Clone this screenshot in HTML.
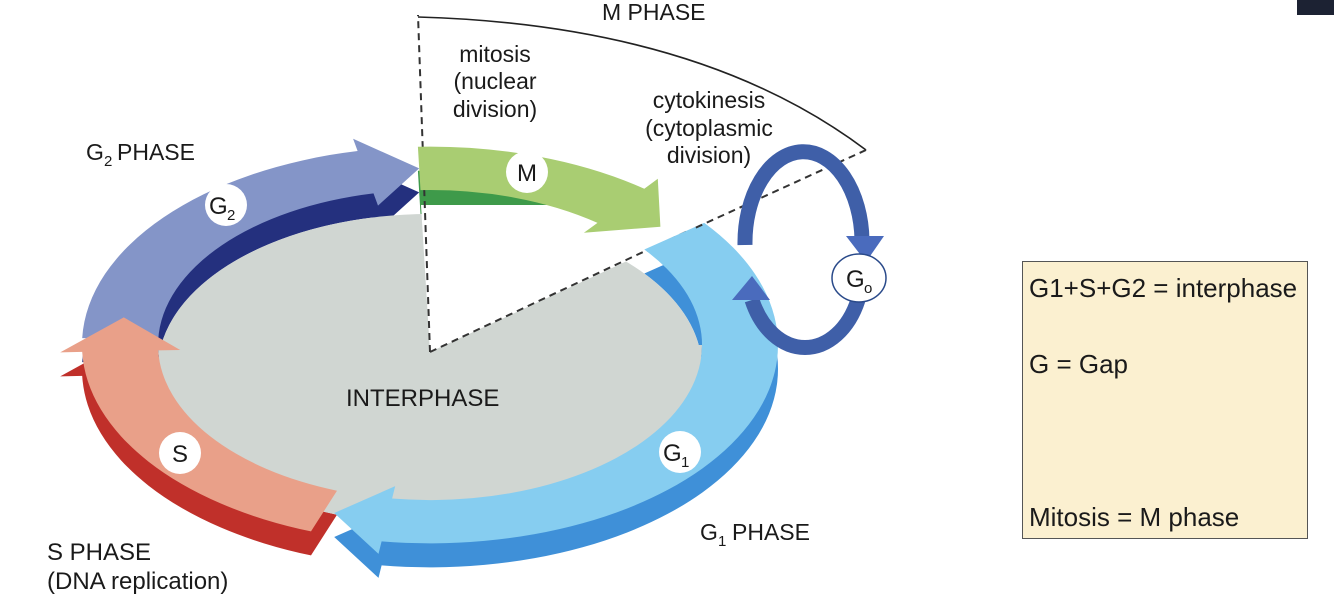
<!DOCTYPE html>
<html><head><meta charset="utf-8"><style>
html,body{margin:0;padding:0;background:#fff;}
svg{display:block;}
text{font-family:"Liberation Sans",sans-serif;fill:#1a1a1a;}
</style></head><body>
<svg width="1334" height="603" viewBox="0 0 1334 603" xmlns="http://www.w3.org/2000/svg">
<defs>
<clipPath id="lower"><rect x="0" y="345" width="900" height="300"/></clipPath>
</defs>
<rect x="1297" y="0" width="37" height="15" fill="#1c2233"/>

<g transform="translate(430,369) scale(1,0.57)">
<path fill="#3e9a4a" d="M-12.1,-347.8 A348,348 0 0 1 214.3,-274.2 L227.8,-291.6 L230.4,-207.4 L153.9,-197 L167.5,-214.3 A272,272 0 0 0 -9.5,-271.8 Z"/>
<path fill="#24307e" d="M-347.8,-12.1 A348,348 0 0 1 -72.4,-340.4 L-76.9,-361.9 L-10.8,-309.8 L-52,-244.5 L-56.5,-266 A272,272 0 0 0 -271.8,-9.5 Z"/>
<path fill="#c0302a" d="M-119,327 A348,348 0 0 1 -347.8,12.1 L-369.8,12.9 L-306.2,-48.5 L-249.8,8.7 L-271.8,9.5 A272,272 0 0 0 -93,255.6 Z"/>
<path fill="#3f90d8" d="M274.2,-214.3 A348,348 0 0 1 -48.4,344.6 L-51.5,366.4 L-95.8,294.8 L-34.8,247.6 L-37.9,269.4 A272,272 0 0 0 214.3,-167.5 Z"/>
</g>

<ellipse cx="430" cy="369" rx="272" ry="155" fill="#d0d6d2"/>
<ellipse cx="430" cy="345" rx="272" ry="155" fill="#d0d6d2" clip-path="url(#lower)"/>
<polygon points="430,352 421,205 560,205 690,232" fill="#fff"/>
<line x1="430" y1="352" x2="418" y2="15" stroke="#333" stroke-width="2" stroke-dasharray="7,5"/>
<line x1="430" y1="352" x2="690" y2="230" stroke="#333" stroke-width="2" stroke-dasharray="7,5"/>

<g transform="translate(430,345) scale(1,0.57)">
<path fill="#a9cd72" d="M-12.1,-347.8 A348,348 0 0 1 214.3,-274.2 L227.8,-291.6 L230.4,-207.4 L153.9,-197 L167.5,-214.3 A272,272 0 0 0 -9.5,-271.8 Z"/>
<path fill="#8495c8" d="M-347.8,-12.1 A348,348 0 0 1 -72.4,-340.4 L-76.9,-361.9 L-10.8,-309.8 L-52,-244.5 L-56.5,-266 A272,272 0 0 0 -271.8,-9.5 Z"/>
<path fill="#e9a089" d="M-119,327 A348,348 0 0 1 -347.8,12.1 L-369.8,12.9 L-306.2,-48.5 L-249.8,8.7 L-271.8,9.5 A272,272 0 0 0 -93,255.6 Z"/>
<path fill="#86cdf0" d="M274.2,-214.3 A348,348 0 0 1 -48.4,344.6 L-51.5,366.4 L-95.8,294.8 L-34.8,247.6 L-37.9,269.4 A272,272 0 0 0 214.3,-167.5 Z"/>
</g>

<path d="M418,17 Q700,25 866,150" fill="none" stroke="#222" stroke-width="1.6"/>
<line x1="866" y1="150" x2="695" y2="228" stroke="#333" stroke-width="2" stroke-dasharray="7,5"/>

<path d="M745,245 A58,90 0 0 1 862,240" fill="none" stroke="#3f5fa8" stroke-width="15"/>
<polygon points="846,236 884,236 866,262" fill="#4a6bbd"/>
<path d="M858,300 A58,80 0 0 1 752,300" fill="none" stroke="#3f5fa8" stroke-width="15"/>
<polygon points="732,300 770,300 752,276" fill="#4a6bbd"/>
<ellipse cx="859" cy="278" rx="27" ry="24" fill="#fff" stroke="#2a4a8a" stroke-width="1.5"/>
<text x="846" y="287" font-size="24">G</text><text x="864" y="293" font-size="15">o</text>

<circle cx="527" cy="172" r="21" fill="#fff"/><text x="527" y="181" font-size="24" text-anchor="middle">M</text>
<circle cx="226" cy="205" r="21" fill="#fff"/><text x="209" y="214" font-size="24">G</text><text x="227" y="220" font-size="15">2</text>
<circle cx="180" cy="453" r="21" fill="#fff"/><text x="180" y="462" font-size="24" text-anchor="middle">S</text>
<circle cx="680" cy="452" r="21" fill="#fff"/><text x="663" y="461" font-size="24">G</text><text x="681" y="467" font-size="15">1</text>

<text x="602" y="20" font-size="23">M PHASE</text>
<text x="495" y="62" font-size="23" text-anchor="middle">mitosis</text>
<text x="495" y="89" font-size="23" text-anchor="middle">(nuclear</text>
<text x="495" y="117" font-size="23" text-anchor="middle">division)</text>
<text x="709" y="108" font-size="23" text-anchor="middle">cytokinesis</text>
<text x="709" y="136" font-size="23" text-anchor="middle">(cytoplasmic</text>
<text x="709" y="163" font-size="23" text-anchor="middle">division)</text>
<text x="86" y="160" font-size="23">G</text><text x="104" y="166" font-size="15">2</text><text x="117" y="160" font-size="23">PHASE</text>
<text x="346" y="406" font-size="24">INTERPHASE</text>
<text x="700" y="540" font-size="23">G</text><text x="718" y="546" font-size="15">1</text><text x="732" y="540" font-size="23">PHASE</text>
<text x="47" y="560" font-size="24">S PHASE</text>
<text x="47" y="589" font-size="24">(DNA replication)</text>

<rect x="1022.5" y="261.5" width="285" height="277" fill="#fbf0d0" stroke="#555" stroke-width="1"/>
<text x="1029" y="297" font-size="26">G1+S+G2 = interphase</text>
<text x="1029" y="373" font-size="26">G = Gap</text>
<text x="1029" y="526" font-size="26">Mitosis = M phase</text>
</svg>
</body></html>
